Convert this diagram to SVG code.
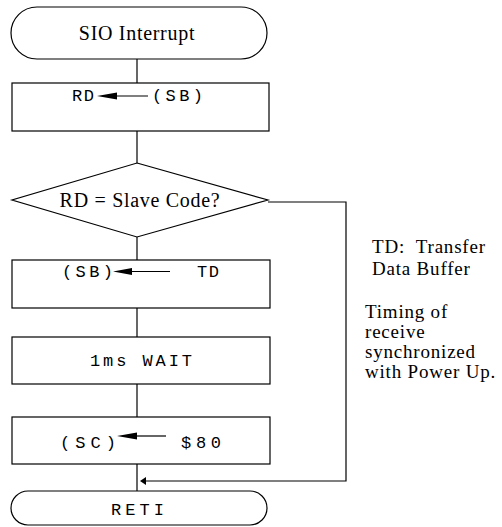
<svg xmlns="http://www.w3.org/2000/svg" width="502" height="527" viewBox="0 0 502 527">
<style>
.s{fill:#fff;stroke:#000;stroke-width:1.2}
.c{fill:none;stroke:#000;stroke-width:1.2}
.serif{font-family:"Liberation Serif","Times New Roman",serif;font-size:20px;fill:#000;letter-spacing:0.7px}
.note{font-family:"Liberation Serif","Times New Roman",serif;font-size:19px;fill:#000;letter-spacing:0.8px}
.mono{font-family:"Liberation Mono","Courier New",monospace;font-size:17px;fill:#000}
.ah{fill:#000;stroke:none}
</style>
<rect width="502" height="527" fill="#fff"/>
<g id="connectors">
<line class="c" x1="137" y1="59" x2="137" y2="83"/>
<line class="c" x1="137" y1="131" x2="137" y2="163"/>
<line class="c" x1="137" y1="237" x2="137" y2="260"/>
<line class="c" x1="137" y1="308" x2="137" y2="337"/>
<line class="c" x1="137" y1="384" x2="137" y2="417"/>
<line class="c" x1="137" y1="464" x2="137" y2="491"/>
<polyline class="c" points="268,202 346,202 346,481 145,481"/>
<polygon class="ah" points="140,481 146,477 146,485"/>
</g>
<g id="start">
<rect class="s" x="11" y="7" width="256" height="52" rx="26" ry="26"/>
<text class="serif" x="137" y="40" text-anchor="middle">SIO Interrupt</text>
</g>
<g id="box1">
<rect class="s" x="12" y="83" width="257" height="48"/>
<text class="mono" x="72" y="100.5" textLength="22" lengthAdjust="spacing">RD</text>
<line class="c" x1="115" y1="96" x2="148" y2="96"/>
<polygon class="ah" points="97,96 117,92.5 117,99.5"/>
<text class="mono" x="152" y="100.5" textLength="51" lengthAdjust="spacing">(SB)</text>
</g>
<g id="decision">
<polygon class="s" points="137,163 268,200 137,237 12,200"/>
<text class="serif" x="140" y="207" text-anchor="middle">RD = Slave Code?</text>
</g>
<g id="box2">
<rect class="s" x="12" y="260" width="258" height="48"/>
<text class="mono" x="62" y="276.5" textLength="51" lengthAdjust="spacing">(SB)</text>
<line class="c" x1="130" y1="271.5" x2="170" y2="271.5"/>
<polygon class="ah" points="113,271.5 132,268 132,275"/>
<text class="mono" x="197" y="276.5" textLength="22" lengthAdjust="spacing">TD</text>
</g>
<g id="box3">
<rect class="s" x="12" y="337" width="258" height="47"/>
<text class="mono" x="90" y="365.5" textLength="102" lengthAdjust="spacing">1ms WAIT</text>
</g>
<g id="box4">
<rect class="s" x="12" y="417" width="258" height="47"/>
<text class="mono" x="60" y="448" textLength="56" lengthAdjust="spacing">(SC)</text>
<line class="c" x1="134" y1="436" x2="166" y2="436"/>
<polygon class="ah" points="117,436 137,432.5 137,439.5"/>
<text class="mono" x="181" y="448" textLength="40" lengthAdjust="spacing">$80</text>
</g>
<g id="end">
<rect class="s" x="11" y="491" width="256" height="34" rx="17" ry="17"/>
<text class="mono" x="111" y="515" textLength="53" lengthAdjust="spacing">RETI</text>
</g>
<g id="notes">
<text class="note" x="372" y="253" xml:space="preserve">TD:  Transfer</text>
<text class="note" x="372" y="275">Data Buffer</text>
<text class="note" x="365" y="318">Timing of</text>
<text class="note" x="365" y="338">receive</text>
<text class="note" x="365" y="358">synchronized</text>
<text class="note" x="365" y="378">with Power Up.</text>
</g>
</svg>
